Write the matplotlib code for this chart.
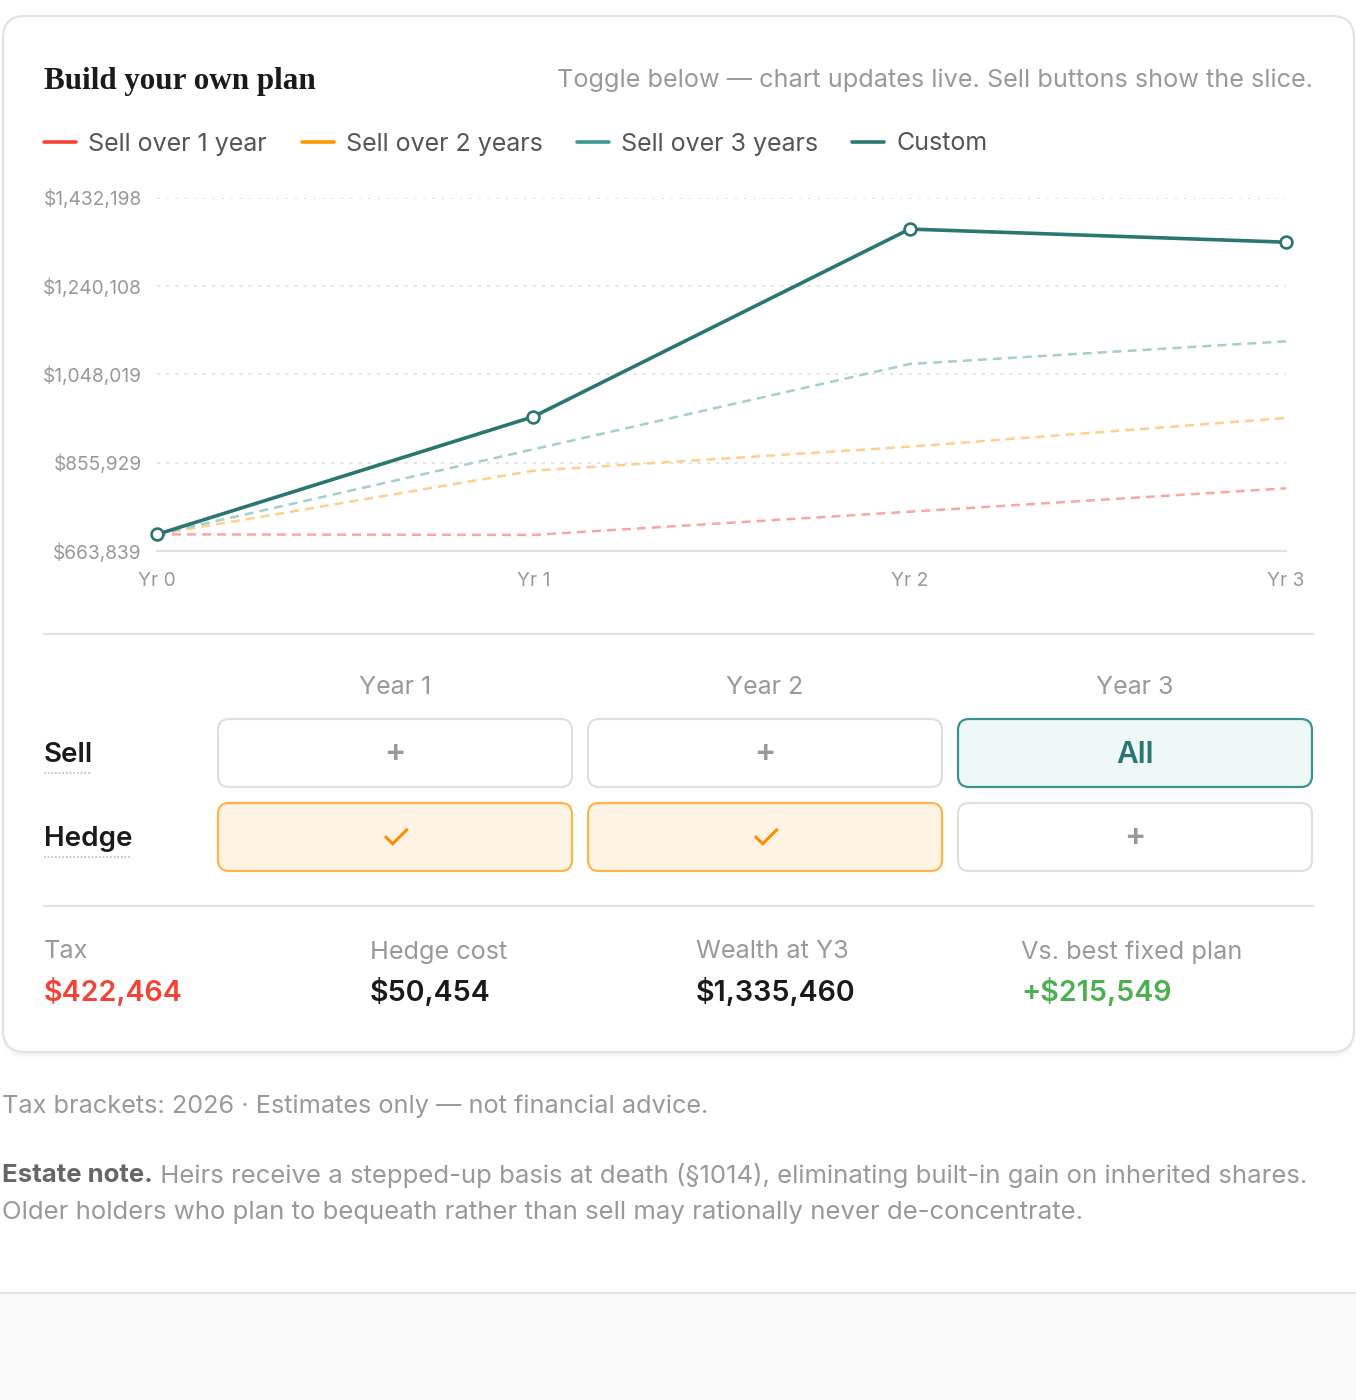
import matplotlib
matplotlib.use('Agg')
import matplotlib.pyplot as plt
from matplotlib.patches import FancyBboxPatch, Rectangle
from matplotlib.ticker import FixedLocator, FuncFormatter

plt.rcParams['font.family'] = ['Inter', 'DejaVu Sans']

# ---- data ----
years = ['Yr 0', 'Yr 1', 'Yr 2', 'Yr 3']
sell_1yr = [700000, 698778, 749300, 800200]
sell_2yr = [700000, 838500, 890700, 953100]
sell_3yr = [700000, 885000, 1070500, 1119911]
custom = [700000, 955900, 1364000, 1335460]
y_ticks = [663839, 855929, 1048019, 1240108, 1432198]

series_names = ['Sell over 1 year', 'Sell over 2 years', 'Sell over 3 years', 'Custom']
series_colors = ['#f44336', '#ff9800', '#3a9b94', '#2a7771']

col_headers = ['Year 1', 'Year 2', 'Year 3']
sell_cells = ['+', '+', 'All']
hedge_cells = ['\u2713', '\u2713', '+']

stat_labels = ['Tax', 'Hedge cost', 'Wealth at Y3', 'Vs. best fixed plan']
stat_values = ['$422,464', '$50,454', '$1,335,460', '+$215,549']
stat_colors = ['#f44336', '#1a1a1a', '#1a1a1a', '#4caf50']

W, H = 1356, 1400
fig = plt.figure(figsize=(W / 100, H / 100), dpi=100)
fig.patch.set_facecolor('white')

# background axes in pixel coords
bg = fig.add_axes([0, 0, 1, 1])
bg.set_xlim(0, W)
bg.set_ylim(H, 0)
bg.axis('off')

# bottom strip
bg.add_patch(Rectangle((0, 1293), W, H - 1293, facecolor='#fafafa', edgecolor='none'))
bg.plot([0, W], [1293, 1293], color='#e2e2e2', lw=1.5)

# card with soft shadow
for i, a in enumerate([0.025, 0.02, 0.015]):
    bg.add_patch(FancyBboxPatch((3, 16 + 2 + i * 2), 1351, 1036, boxstyle='round,pad=0,rounding_size=22',
                                facecolor='black', edgecolor='none', alpha=a))
bg.add_patch(FancyBboxPatch((3, 16), 1351, 1036, boxstyle='round,pad=0,rounding_size=22',
                            facecolor='white', edgecolor='#e2e2e2', lw=1.5))

# header
bg.text(44, 81, 'Build your own plan', family=['Liberation Serif', 'DejaVu Serif'], weight='bold',
        fontsize=22.4, color='#1a1a1a', va='center', ha='left')
bg.text(1313, 80, 'Toggle below \u2014 chart updates live. Sell buttons show the slice.',
        fontsize=18.2, color='#999999', va='center', ha='right')

# legend
leg_x = [44, 302, 577, 852]
for x0, name, c in zip(leg_x, series_names, series_colors):
    bg.plot([x0, x0 + 32], [142, 142], color=c, lw=2.6, solid_capstyle='round')
    bg.text(x0 + 44, 144, name, fontsize=18, color='#555555', va='center', ha='left')

# ---- chart ----
x0px, x1px, ytop, ybot = 157, 1286, 197.7, 551
ax = fig.add_axes([x0px / W, 1 - ybot / H, (x1px - x0px) / W, (ybot - ytop) / H])
ax.patch.set_alpha(0)
xs = list(range(len(years)))
ax.plot(xs, sell_1yr, color='#f8a8a1', lw=1.8, dashes=(3.6, 2.4))
ax.plot(xs, sell_2yr, color='#ffd08a', lw=1.8, dashes=(3.6, 2.4))
ax.plot(xs, sell_3yr, color='#a3d0cc', lw=1.8, dashes=(3.6, 2.4))
ax.plot(xs, custom, color=series_colors[3], lw=2.6, marker='o', ms=8.5, mfc='white',
        mec=series_colors[3], mew=1.9, clip_on=False, zorder=5)
ax.set_xlim(0, 3)
ax.set_ylim(y_ticks[0], y_ticks[-1])
ax.xaxis.set_major_locator(FixedLocator(xs))
ax.set_xticklabels(years)
ax.yaxis.set_major_locator(FixedLocator(y_ticks))
ax.yaxis.set_major_formatter(FuncFormatter(lambda v, p: '${:,.0f}'.format(v)))
ax.tick_params(axis='both', length=0, labelsize=13.8, labelcolor='#999999')
ax.tick_params(axis='y', pad=11)
ax.tick_params(axis='x', pad=15)
ax.grid(axis='y', color='#dddddd', lw=1.1, linestyle=(0, (2, 4)))
for s in ['top', 'right', 'left']:
    ax.spines[s].set_visible(False)
ax.spines['bottom'].set_color('#e0e0e0')
ax.spines['bottom'].set_linewidth(1.6)

# separators
bg.plot([44, 1313], [634, 634], color='#e2e2e2', lw=1.5)
bg.plot([44, 1313], [906, 906], color='#e2e2e2', lw=1.5)

# toggle table
col_x = [217, 587, 957]
bw, bh = 356, 70
for i, cx in enumerate(col_x):
    bg.text(cx + bw / 2, 688, col_headers[i], fontsize=18, color='#999999', ha='center', va='center')

def button(x, y, label, kind):
    fs, fw, dy = 23, 'semibold', 0
    if kind == 'teal':
        fc, ec, tc, fs, dy = '#eef8f6', '#3a938d', '#2a7771', 21.5, 2
    elif kind == 'orange':
        fc, ec, tc, fw, fs, dy = '#fff3e4', '#ffb54d', '#ff8c00', 'normal', 26, 3
    else:
        fc, ec, tc = 'white', '#e0e0e0', '#999999'
    bg.add_patch(FancyBboxPatch((x + 1, y + 1), bw - 2, bh - 2, boxstyle='round,pad=0,rounding_size=11',
                                facecolor=fc, edgecolor=ec, lw=1.6))
    bg.text(x + bw / 2, y + bh / 2 + dy, label, fontsize=fs, color=tc, weight=fw,
            ha='center', va='center')

for i, cx in enumerate(col_x):
    button(cx, 718, sell_cells[i], 'teal' if sell_cells[i] == 'All' else 'plain')
    button(cx, 802, hedge_cells[i], 'orange' if hedge_cells[i] == '\u2713' else 'plain')

bg.text(44, 755, 'Sell', fontsize=20, weight='semibold', color='#1a1a1a', va='center', ha='left')
bg.text(44, 839, 'Hedge', fontsize=20, weight='semibold', color='#1a1a1a', va='center', ha='left')
bg.plot([44, 92], [773, 773], color='#bbbbbb', lw=1.2, linestyle=(0, (1, 1.2)))
bg.plot([44, 131], [857, 857], color='#bbbbbb', lw=1.2, linestyle=(0, (1, 1.2)))

# stats
stat_x = [44, 370, 696, 1021]
for sx, lab, val, c in zip(stat_x, stat_labels, stat_values, stat_colors):
    bg.text(sx, 952, lab, fontsize=18.2, color='#999999', va='center', ha='left')
    bg.text(sx, 993, val, fontsize=20.6, weight='semibold', color=c, va='center', ha='left')

# footer notes
bg.text(2, 1106, 'Tax brackets: 2026 \u00b7 Estimates only \u2014 not financial advice.',
        fontsize=18.2, color='#999999', va='center', ha='left')
t1 = bg.text(2, 1176, 'Estate note.', fontsize=18.5, weight='bold', color='#666666', va='center', ha='left')
bg.annotate(' Heirs receive a stepped-up basis at death (\u00a71014), eliminating built-in gain on inherited shares.',
            xy=(1, 0.5), xycoords=t1, fontsize=18.5, color='#999999', va='center', ha='left')
bg.text(2, 1212, 'Older holders who plan to bequeath rather than sell may rationally never de-concentrate.',
        fontsize=18.5, color='#999999', va='center', ha='left')

fig.savefig('out.png', dpi=100, facecolor='white')
